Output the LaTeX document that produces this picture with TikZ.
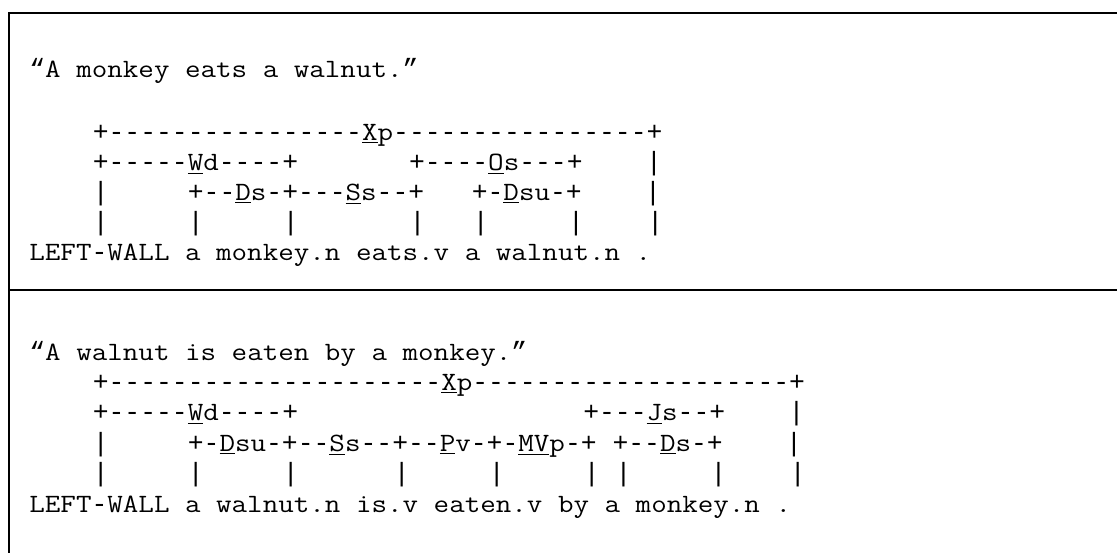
\documentclass[tikz,border=0pt]{standalone}
\usepackage{fontspec}
\newfontfamily\linkfont{Liberation Mono}
\newfontfamily\wordfont{Latin Modern Mono}[FakeStretch=1.1429]
% link label: underlined head, plain tail
\newcommand\lnk[2]{{\wordfont\underline{#1}#2}}
\newcommand\hy{{\linkfont-}}

\begin{document}
\begin{tikzpicture}[x=0.5pt,y=-0.5pt]
    \tikzset{every node/.style={anchor=base west,inner sep=0pt}}
    \tikzset{links/.style={font=\linkfont\fontsize{13.2}{15}\selectfont},
             words/.style={font=\wordfont\fontsize{13.2}{15}\selectfont},
             rule/.style={line width=1pt}}
    \useasboundingbox (0,0) rectangle (1117,553);

    % frame around the two parses
    \coordinate (topleft) at (8.5,12.5);
    \coordinate (topright) at (1117,12.5);
    \coordinate (midleft) at (8.5,290);
    \coordinate (midright) at (1117,290);
    \coordinate (botleft) at (8.5,553);
    \draw[rule] (topright) -- (topleft) -- (botleft);
    \draw[rule] (midleft) -- (midright);

    % active sentence
    \node[words] (quoteA) at (29,77) {{\linkfont“}A~monkey~eats~a~walnut.{\linkfont”}};
    \node[links] (xpA) at (29,140)   {~~~~+----------------\lnk{X}{p}----------------+};
    \node[links] (wdA) at (29,170)   {~~~~+-----\lnk{W}{d}----+~~~~~~~+----\lnk{O}{s}---+~~~~|};
    \node[links] (dsA) at (29,200)   {~~~~|~~~~~+--\lnk{D}{s}-+---\lnk{S}{s}--+~~~+-\lnk{D}{su}-+~~~~|};
    \node[links] (barA) at (29,230)  {~~~~|~~~~~|~~~~~|~~~~~~~|~~~|~~~~~|~~~~|};
    \node[words] (wordA) at (29,260) {LEFT\hy WALL~a~monkey.n~eats.v~a~walnut.n~.};

    % passive sentence
    \node[words] (quoteB) at (29,360) {{\linkfont“}A~walnut~is~eaten~by~a~monkey.{\linkfont”}};
    \node[links] (xpB) at (29,390)   {~~~~+---------------------\lnk{X}{p}--------------------+};
    \node[links] (wdB) at (29,420.5) {~~~~+-----\lnk{W}{d}----+~~~~~~~~~~~~~~~~~~+---\lnk{J}{s}--+~~~~|};
    \node[links] (dsB) at (29,451)   {~~~~|~~~~~+-\lnk{D}{su}-+--\lnk{S}{s}--+--\lnk{P}{v}-+-\lnk{MV}{p}-+~+--\lnk{D}{s}-+~~~~|};
    \node[links] (barB) at (29,481.5){~~~~|~~~~~|~~~~~|~~~~~~|~~~~~|~~~~~|~|~~~~~|~~~~|};
    \node[words] (wordB) at (29,512) {LEFT\hy WALL~a~walnut.n~is.v~eaten.v~by~a~monkey.n~.};
\end{tikzpicture}
\end{document}
